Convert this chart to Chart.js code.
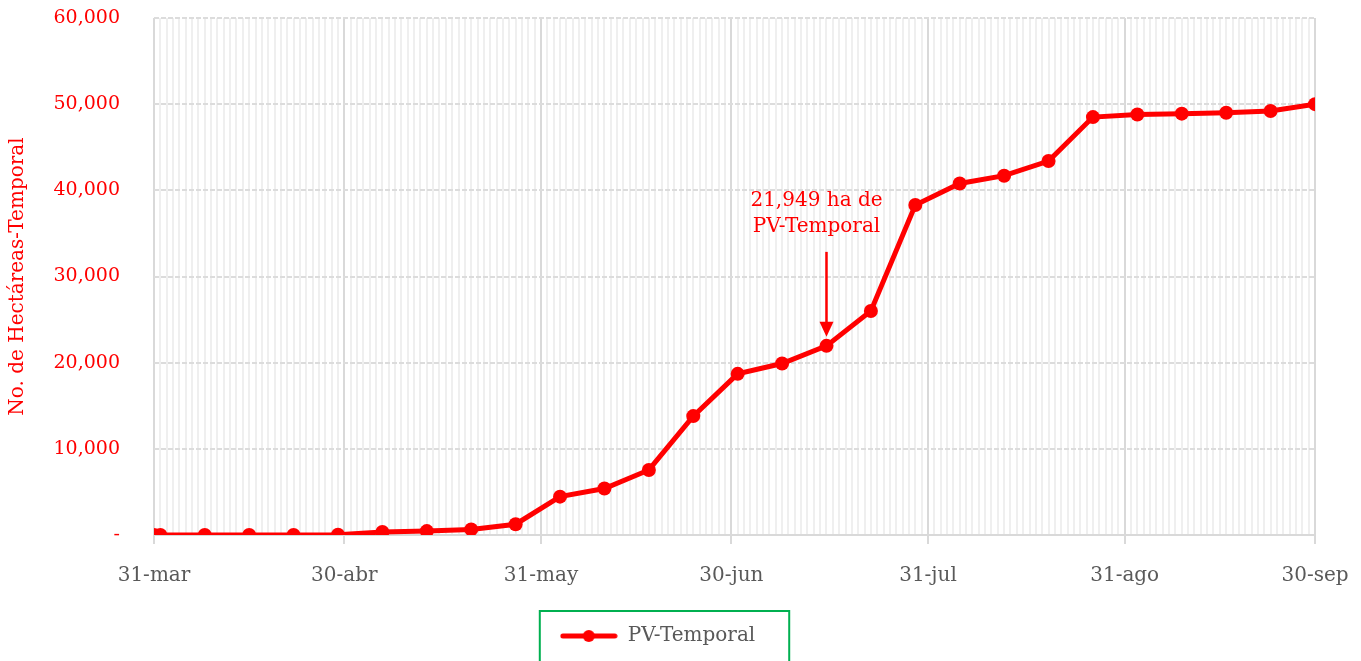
<!DOCTYPE html>
<html>
<head>
<meta charset="utf-8">
<script src="https://cdn.jsdelivr.net/npm/chart.js@4"></script>
<style>
  html, body { margin: 0; padding: 0; background: #fff; }
  #wrap { width: 1361px; height: 661px; }
</style>
</head>
<body>
<div id="wrap"><canvas id="lineChart" width="1361" height="661"></canvas></div>
<script>
Chart.defaults.font.family = "'DejaVu Serif', serif";
Chart.defaults.font.size = 19;

// fechas de corte (mes-dia) y hectareas acumuladas
const fechas = ["03-31", "04-01", "04-08", "04-15", "04-22", "04-29", "05-06", "05-13",
  "05-20", "05-27", "06-03", "06-10", "06-17", "06-24", "07-01", "07-08", "07-15",
  "07-22", "07-29", "08-05", "08-12", "08-19", "08-26", "09-02", "09-09", "09-16",
  "09-23", "09-30"]
const hectareas = [0, 0, 0, 0, 0, 30, 350, 450, 650, 1250, 4450, 5400, 7550, 13800,
  18700, 19900, 21949, 26000, 38300, 40800, 41700, 43400, 48500, 48800, 48900,
  49000, 49200, 50000]

const tickFechas = ["03-31", "04-30", "05-31", "06-30", "07-31", "08-31", "09-30"]
const tickLabels = ["31-mar", "30-abr", "31-may", "30-jun", "31-jul", "31-ago", "30-sep"]
const yTicks = [0, 10000, 20000, 30000, 40000, 50000, 60000]

const nota = ["21,949 ha de", "PV-Temporal"]
const notaFecha = "07-15"
const notaValor = 21949

// days since 31-mar
function dia(f) {
  let p = f.split("-")
  return (Date.UTC(2019, p[0] - 1, p[1]) - Date.UTC(2019, 2, 31)) / 86400000
}

const rojo = "#ff0000"
const puntos = fechas.map((f, i) => ({x: dia(f), y: hectareas[i]}))
const tickDias = tickFechas.map(dia)
const maxDia = tickDias[tickDias.length - 1]

// legend symbol: line with a dot
const simbolo = document.createElement("canvas")
simbolo.width = 58
simbolo.height = 14
let sc = simbolo.getContext("2d")
sc.strokeStyle = rojo
sc.lineWidth = 5
sc.lineCap = "round"
sc.beginPath()
sc.moveTo(3, 7)
sc.lineTo(55, 7)
sc.stroke()
sc.fillStyle = rojo
sc.beginPath()
sc.arc(29, 7, 6, 0, Math.PI * 2)
sc.fill()

const notaPlugin = {
  id: "nota",
  afterDatasetsDraw(chart) {
    const c = chart.ctx
    const xs = chart.scales.x, ys = chart.scales.y
    const px = xs.getPixelForValue(dia(notaFecha))
    const py = ys.getPixelForValue(notaValor)
    c.save()
    c.fillStyle = rojo
    c.strokeStyle = rojo
    c.font = "20px 'DejaVu Serif', serif"
    c.textAlign = "center"
    c.textBaseline = "middle"
    c.fillText(nota[0], px - 10, py - 145)
    c.fillText(nota[1], px - 10, py - 119)
    c.lineWidth = 2.5
    c.beginPath()
    c.moveTo(px, py - 94)
    c.lineTo(px, py - 22)
    c.stroke()
    c.beginPath()
    c.moveTo(px - 7, py - 24)
    c.lineTo(px + 7, py - 24)
    c.lineTo(px, py - 9)
    c.closePath()
    c.fill()
    c.restore()
  }
}

const marcoLeyenda = {
  id: "marcoLeyenda",
  afterDraw(chart) {
    const lg = chart.legend
    if (!lg || !lg.legendHitBoxes || !lg.legendHitBoxes.length) return
    const hb = lg.legendHitBoxes[0]
    const c = chart.ctx
    c.save()
    c.strokeStyle = "#00b050"
    c.lineWidth = 2
    c.strokeRect(hb.left - 20, lg.top + 1, hb.width + 54, 70)
    c.restore()
  }
}

const ctx = document.getElementById("lineChart").getContext("2d")

new Chart(ctx, {
  type: "line",
  data: {
    datasets: [{
      label: "PV-Temporal",
      data: puntos,
      borderColor: rojo,
      backgroundColor: rojo,
      borderWidth: 5,
      pointStyle: "circle",
      pointRadius: 7,
      pointHoverRadius: 7,
      pointBackgroundColor: rojo,
      pointBorderWidth: 0,
      tension: 0
    }]
  },
  options: {
    responsive: false,
    animation: false,
    layout: { padding: { top: 18, right: 46, left: 0, bottom: 5 } },
    plugins: {
      tooltip: { enabled: false },
      legend: {
        position: "bottom",
        labels: {
          usePointStyle: true,
          pointStyleWidth: 58,
          padding: 16,
          color: "#595959",
          font: { size: 20 },
          generateLabels(chart) {
            return [{
              text: "PV-Temporal",
              pointStyle: simbolo,
              fillStyle: rojo,
              strokeStyle: rojo,
              lineWidth: 0,
              fontColor: "#595959",
              datasetIndex: 0,
              hidden: false
            }]
          }
        }
      }
    },
    scales: {
      xMinor: {
        type: "linear",
        position: "bottom",
        min: 0,
        max: maxDia,
        afterBuildTicks(s) {
          let t = []
          for (let d = 0; d <= maxDia; d++) t.push({value: d})
          s.ticks = t
        },
        afterFit(s) { s.height = 0 },
        ticks: { display: false },
        border: { display: false },
        grid: { color: "#efefef", lineWidth: 2, drawTicks: false, z: -1 }
      },
      x: {
        type: "linear",
        position: "bottom",
        min: 0,
        max: maxDia,
        afterBuildTicks(s) {
          s.ticks = tickDias.map(v => ({value: v}))
        },
        afterFit(s) { s.height = 75 },
        ticks: {
          autoSkip: false,
          maxRotation: 0,
          color: "#595959",
          font: { size: 20 },
          padding: 0,
          callback(v) {
            let i = tickDias.indexOf(v)
            return i >= 0 ? tickLabels[i] : ""
          }
        },
        border: { color: "#d9d9d9", width: 2 },
        grid: { color: "#d9d9d9", lineWidth: 2, tickLength: 29, tickBorderDash: [8, 60] }
      },
      y: {
        min: 0,
        max: 60000,
        afterBuildTicks(s) {
          s.ticks = yTicks.map(v => ({value: v}))
        },
        afterFit(s) { s.width = 154 },
        title: {
          display: true,
          text: "No. de Hectáreas-Temporal",
          color: rojo,
          font: { size: 20 },
          padding: { top: 6, bottom: 4 }
        },
        ticks: {
          color: rojo,
          font: { size: 19 },
          padding: 0,
          callback(v) { return v === 0 ? "-" : v.toLocaleString("en-US") }
        },
        border: { display: false, dash: [5, 2] },
        grid: { color: "#dcdcdc", lineWidth: 2, drawTicks: true, tickLength: 34, tickColor: "rgba(0,0,0,0)" }
      }
    }
  },
  plugins: [notaPlugin, marcoLeyenda]
});
</script>
</body>
</html>
